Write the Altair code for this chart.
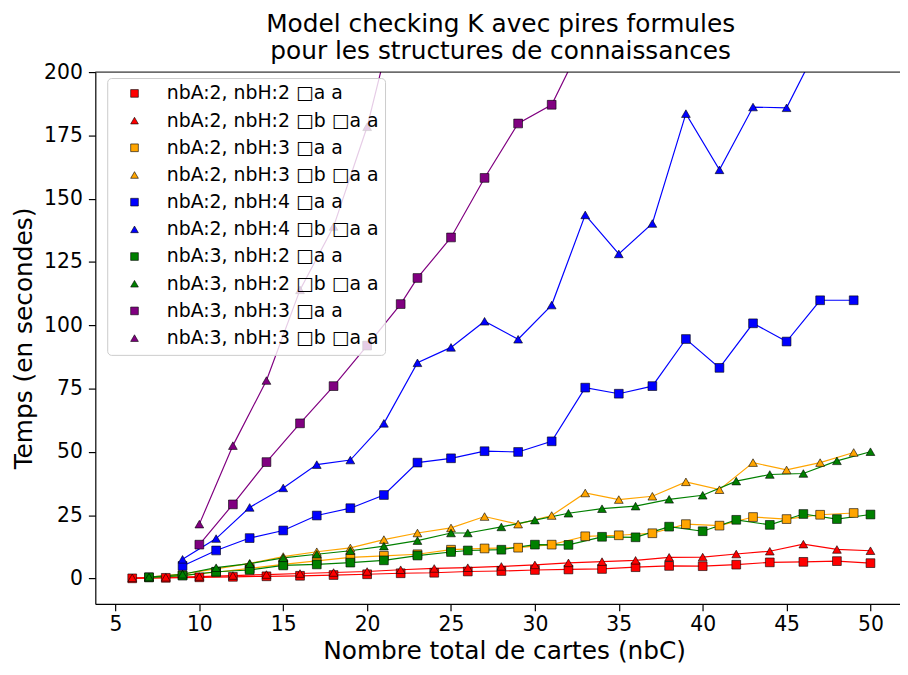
import altair as alt
import pandas as pd

# ---- series labels, colours, shapes ----
labels = [
    "nbA:2, nbH:2 \u25a1a a",
    "nbA:2, nbH:2 \u25a1b \u25a1a a",
    "nbA:2, nbH:3 \u25a1a a",
    "nbA:2, nbH:3 \u25a1b \u25a1a a",
    "nbA:2, nbH:4 \u25a1a a",
    "nbA:2, nbH:4 \u25a1b \u25a1a a",
    "nbA:3, nbH:2 \u25a1a a",
    "nbA:3, nbH:2 \u25a1b \u25a1a a",
    "nbA:3, nbH:3 \u25a1a a",
    "nbA:3, nbH:3 \u25a1b \u25a1a a",
]
colors = ["#ff0000", "#ff0000", "#ffa500", "#ffa500", "#0000ff", "#0000ff",
          "#008000", "#008000", "#800080", "#800080"]
shapes = ["square", "triangle-up"] * 5

# ---- data ----
x_red = [6, 8, 10, 12, 14, 16, 18, 20, 22, 24, 26, 28, 30, 32, 34, 36, 38, 40, 42, 44, 46, 48, 50]
y_red_sq = [0.1, 0.3, 0.5, 0.7, 0.9, 1.1, 1.4, 1.7, 2.1, 2.3, 2.8, 3.0, 3.4, 3.6, 3.8, 4.5, 5.0, 4.9, 5.5, 6.4, 6.6, 6.9, 6.1]
y_red_tri = [0.3, 0.5, 0.8, 1.2, 1.6, 2.0, 2.4, 2.8, 3.5, 4.0, 4.3, 4.8, 5.4, 6.2, 6.7, 7.2, 8.4, 8.5, 9.7, 10.8, 13.6, 11.5, 11.0]

x_orange = [7, 9, 11, 13, 15, 17, 19, 21, 23, 25, 27, 29, 31, 33, 35, 37, 39, 41, 43, 45, 47, 49]
y_orange_sq = [0.5, 1.3, 2.5, 4.0, 5.6, 7.0, 8.4, 9.0, 9.6, 11.4, 11.9, 12.2, 13.4, 16.7, 17.1, 17.9, 21.5, 20.9, 24.3, 23.5, 25.2, 25.9]
y_orange_tri = [0.6, 1.8, 3.8, 6.0, 8.7, 10.6, 12.1, 15.4, 18.0, 20.0, 24.5, 21.5, 24.9, 33.8, 31.2, 32.5, 38.2, 35.1, 45.8, 42.9, 45.8, 49.8]

x_blue_sq = [9, 11, 13, 15, 17, 19, 21, 23, 25, 27, 29, 31, 33, 35, 37, 39, 41, 43, 45, 47, 49]
y_blue_sq = [5.0, 11.1, 16.0, 19.0, 24.9, 27.8, 33.0, 45.8, 47.5, 50.3, 50.0, 54.2, 75.4, 73.0, 76.0, 94.6, 83.2, 100.8, 93.6, 109.9, 109.9]
x_blue_tri = [9, 11, 13, 15, 17, 19, 21, 23, 25, 27, 29, 31, 33, 35, 37, 39, 41, 43, 45, 47]
y_blue_tri = [7.6, 15.8, 28.1, 35.8, 45.0, 46.8, 61.3, 85.2, 91.3, 101.6, 94.5, 108.0, 143.6, 128.2, 140.2, 183.6, 161.4, 186.2, 185.9, 212.0]

x_green = [7, 9, 11, 13, 15, 17, 19, 21, 23, 25, 26, 28, 30, 32, 34, 36, 38, 40, 42, 44, 46, 48, 50]
y_green_sq = [0.5, 1.2, 2.7, 3.4, 5.2, 5.6, 6.3, 7.2, 9.1, 10.5, 11.1, 11.4, 13.4, 13.3, 16.5, 16.3, 20.5, 18.7, 23.2, 21.2, 25.5, 23.5, 25.3]
y_green_tri = [0.6, 1.7, 4.3, 5.9, 8.2, 9.6, 11.0, 12.8, 15.0, 18.0, 18.0, 20.4, 23.1, 25.8, 27.6, 28.6, 31.3, 32.9, 38.5, 41.1, 41.5, 46.5, 50.1]

x_purple_sq = [10, 12, 14, 16, 18, 20, 22, 23, 25, 27, 29, 31, 33]
y_purple_sq = [13.4, 29.3, 46.0, 61.3, 76.0, 92.0, 108.4, 118.7, 134.7, 158.2, 179.7, 187.1, 214.0]
x_purple_tri = [10, 12, 14, 16, 18, 20, 22]
y_purple_tri = [21.5, 52.5, 78.2, 114.0, 139.0, 178.4, 232.0]

series = [
    (x_red, y_red_sq), (x_red, y_red_tri),
    (x_orange, y_orange_sq), (x_orange, y_orange_tri),
    (x_blue_sq, y_blue_sq), (x_blue_tri, y_blue_tri),
    (x_green, y_green_sq), (x_green, y_green_tri),
    (x_purple_sq, y_purple_sq), (x_purple_tri, y_purple_tri),
]

rows = []
for i, (xs, ys) in enumerate(series):
    for xv, yv in zip(xs, ys):
        rows.append({"serie": labels[i], "idx": i, "nbC": xv, "t": yv})
df = pd.DataFrame(rows)

FONT = "DejaVu Sans"

xenc = alt.X("nbC:Q",
             scale=alt.Scale(domain=[3.8, 51.76], nice=False, zero=False),
             axis=alt.Axis(values=[5, 10, 15, 20, 25, 30, 35, 40, 45, 50],
                           title="Nombre total de cartes (nbC)", titlePadding=4,
                           titleX=412, labelPadding=4))
yenc = alt.Y("t:Q",
             scale=alt.Scale(domain=[-10, 200], nice=False, zero=False),
             axis=alt.Axis(values=[0, 25, 50, 75, 100, 125, 150, 175, 200],
                           title="Temps (en secondes)", titlePadding=7,
                           labelPadding=6))

color_scale = alt.Scale(domain=labels, range=colors)
shape_scale = alt.Scale(domain=labels, range=shapes)

leg = alt.Legend(title=None, orient="none", legendX=12, legendY=6,
                 padding=6, symbolOffset=12, labelOffset=23, rowPadding=7.4,
                 labelFontSize=19, labelFont=FONT, labelColor="black",
                 fillColor="rgba(255,255,255,0.8)", strokeColor="#cccccc",
                 cornerRadius=4, symbolSize=60, symbolStrokeColor="black",
                 symbolStrokeWidth=0.6, labelLimit=400, zindex=1)

# one line layer per series (constant colour, no legend of their own)
line_layers = [
    alt.Chart(df).transform_filter(alt.datum.idx == i)
    .mark_line(color=colors[i], strokeWidth=1.2, clip=True)
    .encode(x=xenc, y=yenc, order="nbC:Q")
    for i in range(len(labels))
]

points = alt.Chart(df).mark_point(filled=True, size=78, stroke="black",
                                  strokeWidth=0.6, opacity=1, clip=True).encode(
    x=xenc, y=yenc,
    color=alt.Color("serie:N", scale=color_scale, legend=leg),
    shape=alt.Shape("serie:N", scale=shape_scale, legend=leg),
)

top_spine = alt.Chart(pd.DataFrame({"v": [200]})).mark_rule(
    color="black", strokeWidth=1).encode(y=alt.Y("v:Q"))

chart = alt.layer(*line_layers, points, top_spine).properties(
    width=811, height=536,
    title=alt.Title(["Model checking K avec pires formules",
                     "\u00a0pour les structures de connaissances"],
                    fontSize=25, font=FONT, fontWeight="normal", anchor="middle",
                    lineHeight=27, offset=-2, dx=3, color="black"),
    autosize=alt.AutoSizeParams(type="none"),
    padding={"left": 88, "top": 62, "right": 0, "bottom": 61},
).configure_view(strokeWidth=0).configure_axis(
    grid=False, domainColor="black", tickColor="black", labelColor="black",
    titleColor="black", labelFont=FONT, titleFont=FONT, labelFontSize=20.5,
    titleFontSize=25, titleFontWeight="normal", tickSize=7,
    domainWidth=1.2, tickWidth=1.2,
)

chart.save("out.html", embed_options={"renderer": "svg", "actions": False})
